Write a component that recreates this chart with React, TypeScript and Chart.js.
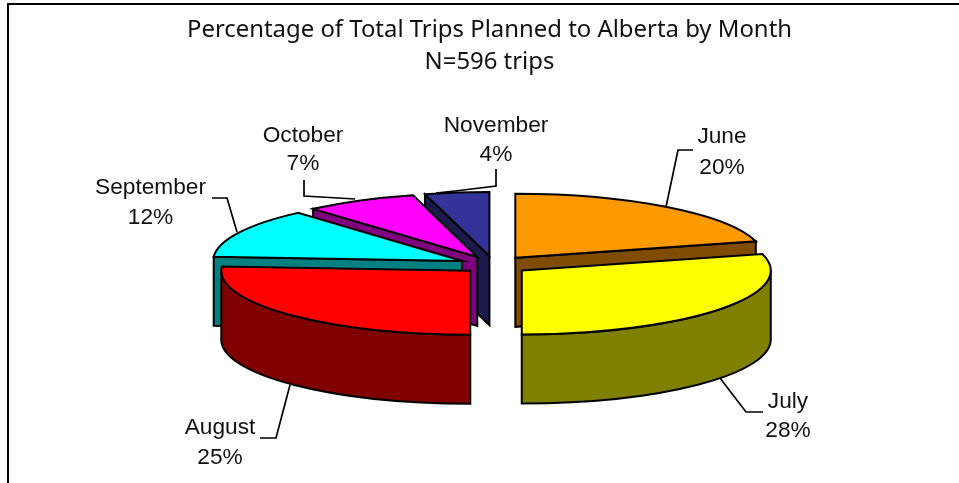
import React, { useEffect, useRef } from "react";
import { Chart, registerables } from "chart.js";

Chart.register(...registerables);

const months = ["June", "July", "August", "September", "October", "November"];
const percentages = [20, 28, 25, 12, 7, 4];
const topColors = ["#FF9900", "#FFFF00", "#FF0000", "#00FFFF", "#FF00FF", "#333399"];
const wallColors = ["#804C00", "#808000", "#800000", "#008080", "#800080", "#1A1A4D"];
const titleLines = ["Percentage of Total Trips Planned to Alberta by Month", "N=596 trips"];

// presentation of the tilted, exploded pie
const explode = [35, 35, 32.5, 35.5, 35.5, 35];
const paintOrder = [0, 5, 4, 3, 1, 2];
const CENTER = { x: 494, y: 265 };
const TILT = 0.257;
const DEPTH = 69;
const RADIUS = 249;
const labelFont = '22.7px "Liberation Sans", Arial, sans-serif';
const labelSpots = [
  { x: 722, y: 143, y2: 174 },
  { x: 788, y: 408, y2: 437 },
  { x: 220, y: 434, y2: 464 },
  { x: 150.5, y: 194, y2: 224 },
  { x: 303, y: 142, y2: 170 },
  { x: 496, y: 132, y2: 161 },
];
const leaders = [
  [[693, 150], [678, 150], [666, 207]],
  [[763, 412], [746, 412], [720, 378]],
  [[260, 438], [276, 438], [290, 385]],
  [[212, 198], [227, 198], [237, 232]],
  [[304, 180], [304, 196], [355, 199]],
  [[496, 169], [496, 186], [455, 191], [436, 193]],
];

const tiltedPie = {
  id: "tiltedPie",
  beforeDraw(chart: any) {
    const ctx = chart.ctx;
    ctx.save();
    ctx.fillStyle = "#000";
    ctx.fillRect(7, 3, chart.width - 7, 2);
    ctx.fillRect(7, 3, 2, chart.height - 3);
    ctx.restore();
  },
  beforeDatasetDraw(chart: any, args: any) {
    const ctx: CanvasRenderingContext2D = chart.ctx;
    const arcs = args.meta.data;
    const outline = (build: () => void, fill?: string) => {
      ctx.beginPath();
      build();
      ctx.closePath();
      if (fill) {
        ctx.fillStyle = fill;
        ctx.fill();
      }
      ctx.lineWidth = 2;
      ctx.lineJoin = "miter";
      ctx.strokeStyle = "#000";
      ctx.stroke();
    };
    for (const i of paintOrder) {
      const arc = arcs[i];
      const { startAngle: a1, endAngle: a2, outerRadius: r, x: ox, y: oy } = arc;
      const mid = (a1 + a2) / 2;
      const d = explode[i];
      const ax = CENTER.x + Math.cos(mid) * d;
      const ay = CENTER.y + Math.sin(mid) * d * TILT;
      const rim = (t: number) => [ax + Math.cos(t) * r, ay + Math.sin(t) * r * TILT];
      const face = (t: number) => {
        const [px, py] = rim(t);
        outline(() => {
          ctx.moveTo(ax, ay);
          ctx.lineTo(px, py);
          ctx.lineTo(px, py + DEPTH);
          ctx.lineTo(ax, ay + DEPTH);
        }, wallColors[i]);
      };
      // side faces that look toward the viewer
      if (Math.cos(a2) > 0.001) face(a2);
      if (Math.cos(a1) < -0.001) face(a1);
      // curved outer wall: only the front half shows
      const from = Math.max(a1, 0);
      const to = Math.min(a2, Math.PI);
      if (to > from) {
        outline(() => {
          ctx.ellipse(ax, ay, r, r * TILT, 0, from, to);
          ctx.ellipse(ax, ay + DEPTH, r, r * TILT, 0, to, from, true);
        }, wallColors[i]);
      }
      // top surface: the library's own arc, squashed and moved into place
      ctx.save();
      ctx.translate(ax, ay);
      ctx.scale(1, TILT);
      ctx.translate(-ox, -oy);
      arc.draw(ctx);
      ctx.restore();
      outline(() => {
        ctx.moveTo(ax, ay);
        ctx.ellipse(ax, ay, r, r * TILT, 0, a1, a2);
      });
    }
    return false;
  },
  afterDatasetsDraw(chart: any) {
    const ctx: CanvasRenderingContext2D = chart.ctx;
    ctx.save();
    ctx.strokeStyle = "#000";
    ctx.lineWidth = 1.7;
    for (const pts of leaders) {
      ctx.beginPath();
      pts.forEach(([x, y], k) => (k ? ctx.lineTo(x, y) : ctx.moveTo(x, y)));
      ctx.stroke();
    }
    ctx.fillStyle = "#111";
    ctx.font = labelFont;
    ctx.textAlign = "center";
    ctx.textBaseline = "alphabetic";
    months.forEach((m, i) => {
      const spot = labelSpots[i];
      ctx.fillText(m, spot.x, spot.y);
      ctx.fillText(`${percentages[i]}%`, spot.x, spot.y2);
    });
    ctx.restore();
  },
};

export default function App() {
  const ref = useRef<HTMLCanvasElement>(null);
  useEffect(() => {
    const chart = new Chart(ref.current!, {
      type: "pie",
      plugins: [tiltedPie],
      data: {
        labels: months,
        datasets: [
          {
            data: percentages,
            backgroundColor: topColors,
            borderWidth: 0,
          },
        ],
      },
      options: {
        responsive: false,
        animation: false,
        radius: RADIUS,
        layout: { padding: { left: 20 } },
        events: [],
        plugins: {
          legend: { display: false },
          tooltip: { enabled: false },
          title: {
            display: true,
            text: titleLines,
            fullSize: false,
            color: "#111",
            font: { family: '"Noto Sans", sans-serif', size: 23.9, weight: "normal", lineHeight: 1.34 },
            padding: { top: 14, bottom: 0 },
          },
        },
      } as any,
    });
    return () => chart.destroy();
  }, []);
  return (
    <canvas
      ref={ref}
      width={959}
      height={483}
      style={{ position: "absolute", left: 0, top: 0, width: 959, height: 483, display: "block" }}
    />
  );
}
